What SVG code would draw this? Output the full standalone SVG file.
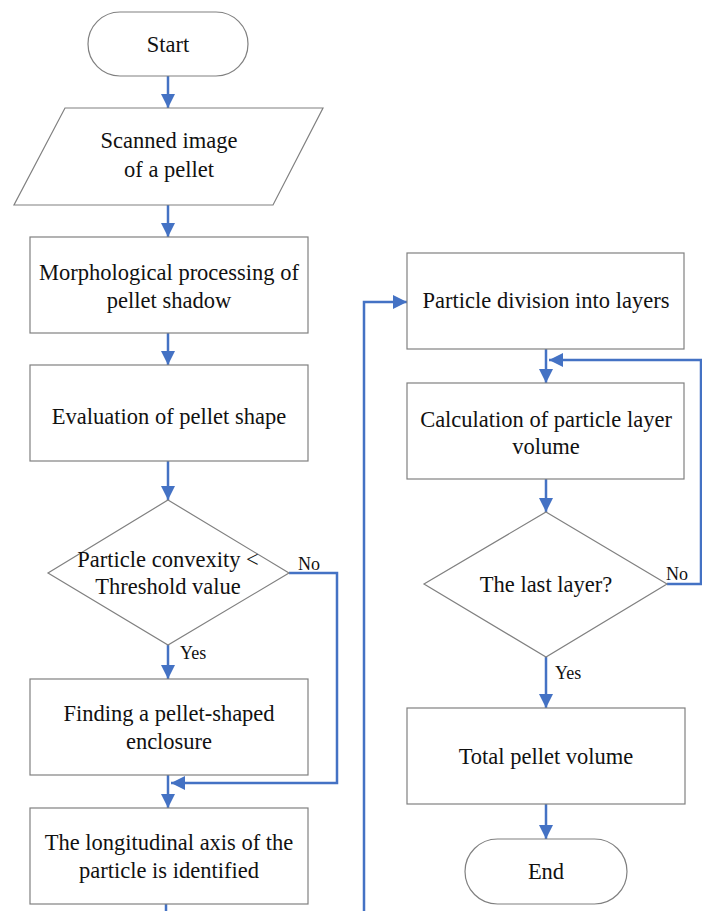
<svg xmlns="http://www.w3.org/2000/svg" width="702" height="911" viewBox="0 0 702 911">
<defs>
<marker id="ah" markerUnits="userSpaceOnUse" markerWidth="14" markerHeight="14" viewBox="0 0 14 14" refX="14" refY="7" orient="auto">
<path d="M0,0 L14,7 L0,14 Z" fill="#4472C4"/>
</marker>
<style>
.n{fill:#fff;stroke:#808080;stroke-width:1.2}
.t{font-family:"Liberation Serif",serif;font-size:18px;fill:#111;text-anchor:middle}
.l{font-family:"Liberation Serif",serif;font-size:18px;fill:#111}
.c{fill:none;stroke:#4472C4;stroke-width:2.5}
</style>
</defs>
<rect width="702" height="911" fill="#fff"/>
<g id="connectors">
<path class="c" d="M168,76 V108" marker-end="url(#ah)"/>
<path class="c" d="M168,205 V237" marker-end="url(#ah)"/>
<path class="c" d="M168,333 V365" marker-end="url(#ah)"/>
<path class="c" d="M168,461 V500" marker-end="url(#ah)"/>
<path class="c" d="M168,645 V679" marker-end="url(#ah)"/>
<path class="c" d="M168,775 V808" marker-end="url(#ah)"/>
<path class="c" d="M289,573 H337 V783 H171" marker-end="url(#ah)"/>
<path class="c" d="M166,904 V911"/>
<path class="c" d="M364,911 V302 H407" marker-end="url(#ah)"/>
<path class="c" d="M546,349 V383" marker-end="url(#ah)"/>
<path class="c" d="M667,584 H701 V360 H549" marker-end="url(#ah)"/>
<path class="c" d="M546,479 V512" marker-end="url(#ah)"/>
<path class="c" d="M546,657 V708" marker-end="url(#ah)"/>
<path class="c" d="M546,804 V839" marker-end="url(#ah)"/>
</g>
<g id="start"><rect class="n" x="88" y="12" width="160" height="64" rx="32"/><text class="t" transform="translate(168,52) scale(1.25)">Start</text></g>
<g id="scanned"><polygon class="n" points="65,108 323,108 273,205 14,205"/><text class="t" transform="translate(169,148) scale(1.25)">Scanned image</text><text class="t" transform="translate(169,177) scale(1.25)">of a pellet</text></g>
<g id="morph"><rect class="n" x="30" y="237" width="278" height="96"/><text class="t" transform="translate(169,280) scale(1.25)">Morphological processing of</text><text class="t" transform="translate(169,308) scale(1.25)">pellet shadow</text></g>
<g id="eval"><rect class="n" x="30" y="365" width="278" height="96"/><text class="t" transform="translate(169,424) scale(1.25)">Evaluation of pellet shape</text></g>
<g id="convexity"><polygon class="n" points="168,500 289,573 168,645 48,573"/><text class="t" transform="translate(168,567) scale(1.25)">Particle convexity &lt;</text><text class="t" transform="translate(168,594) scale(1.25)">Threshold value</text></g>
<text class="l" x="298" y="570">No</text>
<text class="l" x="180" y="659">Yes</text>
<g id="finding"><rect class="n" x="30" y="679" width="278" height="96"/><text class="t" transform="translate(169,721) scale(1.25)">Finding a pellet-shaped</text><text class="t" transform="translate(169,749) scale(1.25)">enclosure</text></g>
<g id="axis"><rect class="n" x="30" y="808" width="278" height="96"/><text class="t" transform="translate(169,850) scale(1.25)">The longitudinal axis of the</text><text class="t" transform="translate(169,878) scale(1.25)">particle is identified</text></g>
<g id="division"><rect class="n" x="407" y="253" width="277" height="96"/><text class="t" transform="translate(546,308) scale(1.25)">Particle division into layers</text></g>
<g id="calc"><rect class="n" x="407" y="383" width="277" height="96"/><text class="t" transform="translate(546,427) scale(1.25)">Calculation of particle layer</text><text class="t" transform="translate(546,454) scale(1.25)">volume</text></g>
<g id="last"><polygon class="n" points="546,512 667,584 546,657 424,584"/><text class="t" transform="translate(546,592) scale(1.25)">The last layer?</text></g>
<text class="l" x="666" y="580">No</text>
<text class="l" x="555" y="679">Yes</text>
<g id="total"><rect class="n" x="407" y="708" width="278" height="96"/><text class="t" transform="translate(546,764) scale(1.25)">Total pellet volume</text></g>
<g id="end"><rect class="n" x="465" y="839" width="162" height="65" rx="32.5"/><text class="t" transform="translate(546,879) scale(1.25)">End</text></g>
</svg>
